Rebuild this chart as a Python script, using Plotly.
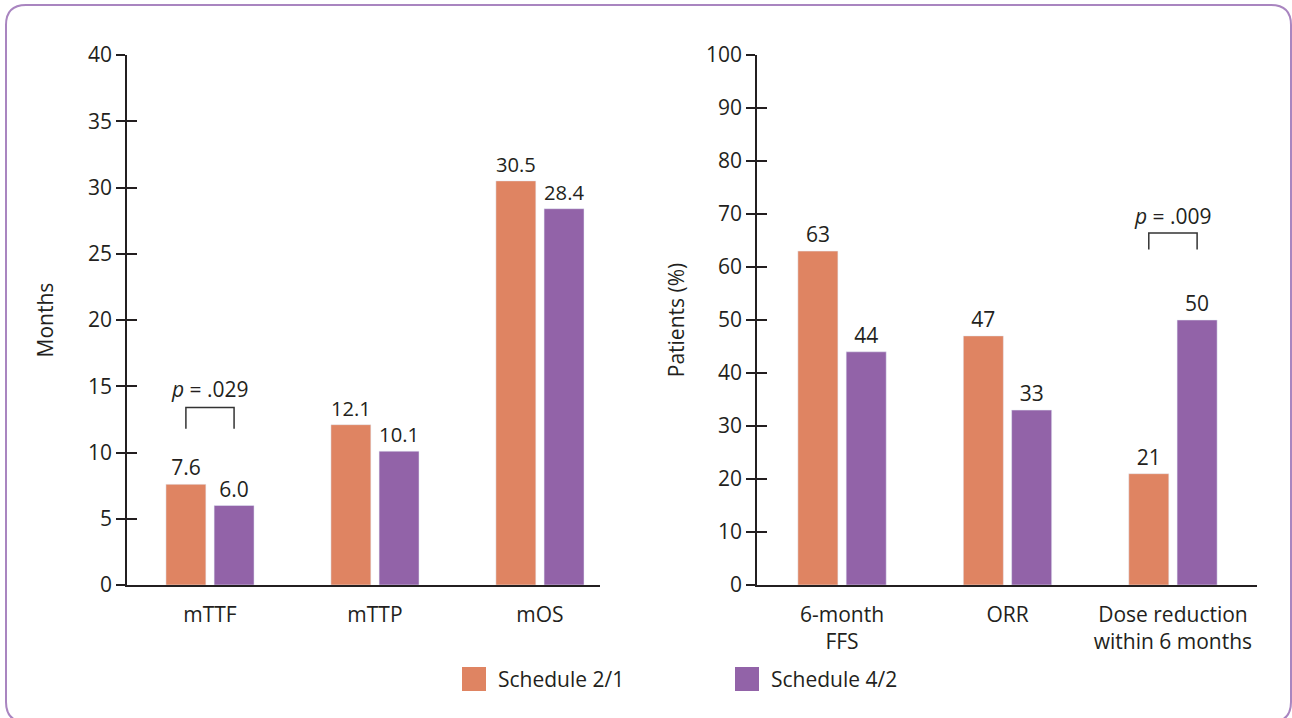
import plotly.graph_objects as go

# ---- data ----
left_categories = ["mTTF", "mTTP", "mOS"]
left_sched21 = [7.6, 12.1, 30.5]
left_sched42 = [6.0, 10.1, 28.4]
left_ticks = [0, 5, 10, 15, 20, 25, 30, 35, 40]

right_categories = ["6-month<br>FFS", "ORR", "Dose reduction<br>within 6 months"]
right_sched21 = [63, 47, 21]
right_sched42 = [44, 33, 50]
right_ticks = [0, 10, 20, 30, 40, 50, 60, 70, 80, 90, 100]

series_names = ["Schedule 2/1", "Schedule 4/2"]
colors = ["#DF8462", "#9263A8"]

W, H = 1292, 718
FONT = "Open Sans"
FS = 21
TXT = "#231f20"
AX = "#231f20"

BAR_W = 0.242
OFF = [-0.267, 0.025]

fig = go.Figure()

def px_x(p):
    return p / W

def px_y(p):
    return 1 - p / H

# left bars
for vals, name, col, off in [(left_sched21, series_names[0], colors[0], OFF[0]),
                             (left_sched42, series_names[1], colors[1], OFF[1])]:
    fig.add_trace(go.Bar(x=left_categories, y=vals, name=name, marker_color=col,
                         width=BAR_W, offset=off, xaxis="x", yaxis="y",
                         text=[f"{v:.1f}" for v in vals], textposition="outside",
                         textfont=dict(family=FONT, size=FS, color=TXT),
                         cliponaxis=False, showlegend=False))
# right bars
for vals, name, col, off in [(right_sched21, series_names[0], colors[0], OFF[0]),
                             (right_sched42, series_names[1], colors[1], OFF[1])]:
    fig.add_trace(go.Bar(x=right_categories, y=vals, name=name, marker_color=col,
                         width=BAR_W, offset=off, xaxis="x2", yaxis="y2",
                         text=[f"{v:d}" for v in vals], textposition="outside",
                         textfont=dict(family=FONT, size=FS, color=TXT),
                         cliponaxis=False, showlegend=False))

ydom = [px_y(585), px_y(55)]
common_y = dict(showgrid=False, zeroline=False, showline=True, linecolor=AX, linewidth=1.5,
                ticks="outside", ticklen=9, tickwidth=1.5, tickcolor=AX, automargin=False,
                tickfont=dict(family=FONT, size=FS, color=TXT), domain=ydom)
common_x = dict(showgrid=False, zeroline=False, showline=True, linecolor=AX, linewidth=1.5,
                ticks="", tickfont=dict(family=FONT, size=FS, color=TXT), type="category",
                automargin=False, ticklabelstandoff=10)

fig.update_layout(
    width=W, height=H,
    margin=dict(l=0, r=0, t=0, b=0, autoexpand=False),
    paper_bgcolor="white", plot_bgcolor="white",
    barmode="overlay",
    font=dict(family=FONT, color=TXT),
    xaxis=dict(**common_x, domain=[px_x(127), px_x(600)], range=[-0.503, 2.364], anchor="y"),
    yaxis=dict(**common_y, range=[0, 40], tickvals=left_ticks, anchor="x",
               title=dict(text="Months", font=dict(family=FONT, size=FS, color=TXT), standoff=29)),
    xaxis2=dict(**common_x, domain=[px_x(757), px_x(1257)], range=[-0.514, 2.508], anchor="y2"),
    yaxis2=dict(**common_y, range=[0, 100], tickvals=right_ticks, anchor="x2",
                title=dict(text="Patients (%)", font=dict(family=FONT, size=FS, color=TXT), standoff=16)),
    # inner half of tick marks
    yaxis3=dict(overlaying="y", anchor="x", side="left", range=[0, 40], tickvals=left_ticks,
                ticks="inside", ticklen=10, tickwidth=1.5, tickcolor=AX, showticklabels=False,
                showline=False, showgrid=False, zeroline=False, automargin=False),
    yaxis4=dict(overlaying="y2", anchor="x2", side="left", range=[0, 100], tickvals=right_ticks,
                ticks="inside", ticklen=10, tickwidth=1.5, tickcolor=AX, showticklabels=False,
                showline=False, showgrid=False, zeroline=False, automargin=False),
)
# dummy traces so overlaying axes render
fig.add_trace(go.Scatter(x=[left_categories[0]], y=[None], xaxis="x", yaxis="y3",
                         showlegend=False, hoverinfo="skip"))
fig.add_trace(go.Scatter(x=[right_categories[0]], y=[None], xaxis="x2", yaxis="y4",
                         showlegend=False, hoverinfo="skip"))

# p-value brackets
def bracket(xref, yref, cat_idx, top, bottom, label, label_y):
    xa = cat_idx + OFF[0] + BAR_W / 2
    xb = cat_idx + OFF[1] + BAR_W / 2
    fig.add_shape(type="path", xref=xref, yref=yref,
                  path=f"M {xa} {bottom} L {xa} {top} L {xb} {top} L {xb} {bottom}",
                  line=dict(color="#333333", width=1.5))
    fig.add_annotation(x=(xa + xb) / 2, y=label_y, xref=xref, yref=yref, text=label,
                       showarrow=False, font=dict(family=FONT, size=FS, color=TXT))

bracket("x", "y", 0, 13.4, 11.8, "<i>p</i> = .029", 14.8)
bracket("x2", "y2", 2, 66.4, 63.3, "<i>p</i> = .009", 69.6)

# legend (manual, large swatches)
for i, (name, col) in enumerate(zip(series_names, colors)):
    x0 = 462 + i * 273
    fig.add_shape(type="rect", xref="paper", yref="paper",
                  x0=px_x(x0), x1=px_x(x0 + 24), y0=px_y(691), y1=px_y(667),
                  fillcolor=col, line=dict(width=0))
    fig.add_annotation(x=px_x(x0 + 34), y=px_y(679), xref="paper", yref="paper",
                       text=name, showarrow=False, xanchor="left", yanchor="middle",
                       font=dict(family=FONT, size=FS, color=TXT))

# rounded border
r = 20
x0, y0, x1, y1 = 6, 5, 1291, 722
pts = (f"M {px_x(x0 + r)} {px_y(y0)} L {px_x(x1 - r)} {px_y(y0)} "
       f"Q {px_x(x1)} {px_y(y0)} {px_x(x1)} {px_y(y0 + r)} "
       f"L {px_x(x1)} {px_y(y1 - r)} Q {px_x(x1)} {px_y(y1)} {px_x(x1 - r)} {px_y(y1)} "
       f"L {px_x(x0 + r)} {px_y(y1)} Q {px_x(x0)} {px_y(y1)} {px_x(x0)} {px_y(y1 - r)} "
       f"L {px_x(x0)} {px_y(y0 + r)} Q {px_x(x0)} {px_y(y0)} {px_x(x0 + r)} {px_y(y0)} Z")
fig.add_shape(type="path", xref="paper", yref="paper", path=pts,
              line=dict(color="#A985C0", width=2), layer="below")

fig.write_html("out.html", config={"displayModeBar": False},
               post_script="document.body.style.margin='0';document.body.style.overflow='hidden';")
